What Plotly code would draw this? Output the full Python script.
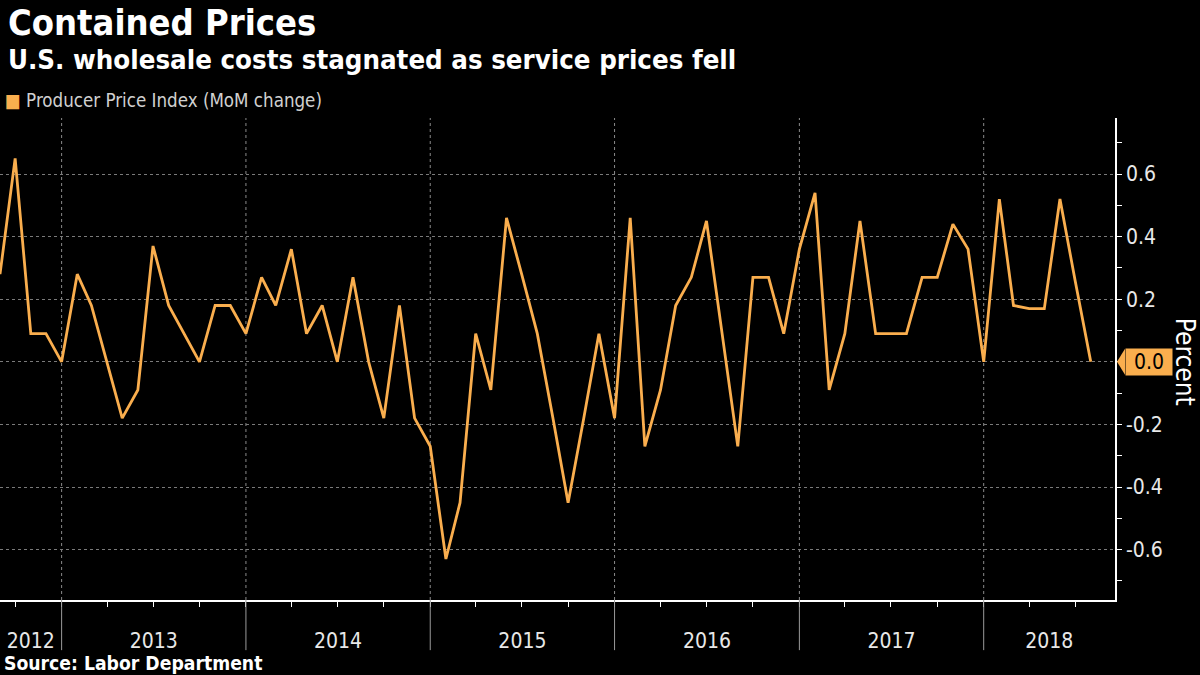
import plotly.graph_objects as go
import pandas as pd

# ---- data ----
start_month = "2012-08"
ppi_mom = [0.28, 0.65, 0.09, 0.09, 0.00,
           0.28, 0.18, 0.00, -0.18, -0.09, 0.37, 0.18, 0.09, 0.00, 0.18, 0.18, 0.09,
           0.27, 0.18, 0.36, 0.09, 0.18, 0.00, 0.27, 0.00, -0.18, 0.18, -0.18, -0.27,
           -0.63, -0.45, 0.09, -0.09, 0.46, 0.28, 0.09, -0.18, -0.45, -0.18, 0.09, -0.18,
           0.46, -0.27, -0.09, 0.18, 0.27, 0.45, 0.09, -0.27, 0.27, 0.27, 0.09, 0.36,
           0.54, -0.09, 0.09, 0.45, 0.09, 0.09, 0.09, 0.27, 0.27, 0.44, 0.36, 0.00,
           0.52, 0.18, 0.17, 0.17, 0.52, 0.26, 0.00]
years = ["2012", "2013", "2014", "2015", "2016", "2017", "2018"]
y_tickvals = [-0.6, -0.4, -0.2, 0.0, 0.2, 0.4, 0.6]
y_ticktext = ["-0.6", "-0.4", "-0.2", "", "0.2", "0.4", "0.6"]
x_range = ["2012-09-01", "2018-09-18"]
y_range = [-0.761, 0.779]

ORANGE = "#FAAE4E"
FONT = "DejaVu Sans Condensed, DejaVu Sans, sans-serif"

# month-end dates (plotted at the start of the following month)
dates = (pd.period_range(start_month, periods=len(ppi_mom), freq="M") + 1).to_timestamp()

fig = go.Figure()
fig.add_trace(go.Scatter(x=dates, y=ppi_mom, mode="lines",
                         line=dict(color=ORANGE, width=2.8),
                         showlegend=False, hoverinfo="x+y"))

# year label positions: centre of visible part of each year
r0, r1 = pd.Timestamp(x_range[0]), pd.Timestamp(x_range[1])
label_pos = []
boundaries = []
for y in years:
    a = max(r0, pd.Timestamp(f"{y}-01-01"))
    b = min(r1, pd.Timestamp(f"{int(y)+1}-01-01"))
    label_pos.append(a + (b - a) / 2)
    if pd.Timestamp(f"{y}-01-01") > r0:
        boundaries.append(pd.Timestamp(f"{y}-01-01"))

shapes = []
for bd in boundaries:
    shapes.append(dict(type="line", xref="x", yref="paper", x0=bd, x1=bd, y0=0, y1=1,
                       line=dict(color="#8a8a8a", width=1, dash="dot"), layer="below"))
    shapes.append(dict(type="line", xref="x", yref="paper", x0=bd, x1=bd, y0=0, y1=-0.104,
                       line=dict(color="#9a9a9a", width=1)))

# last-value tag pointer
y0p = (0 - y_range[0]) / (y_range[1] - y_range[0])
plot_w = 1200 - 0 - 85
plot_h = 675 - 118 - 75
dx = 8 / plot_w
dy = 13 / plot_h
shapes.append(dict(type="path", xref="paper", yref="paper",
                   path=f"M {1 + 2/plot_w} {y0p} L {1 + 2/plot_w + dx} {y0p + dy} "
                        f"L {1 + 2/plot_w + dx} {y0p - dy} Z",
                   fillcolor=ORANGE, line=dict(width=0)))

annotations = [
    dict(text="Contained Prices", xref="paper", yref="paper", x=-0.0, y=1,
         xanchor="left", yanchor="middle", showarrow=False,
         font=dict(family=FONT, size=36, color="white", weight="bold"),
         yshift=118 - 22, xshift=6),
    dict(text="U.S. wholesale costs stagnated as service prices fell", xref="paper", yref="paper",
         x=0, y=1, xanchor="left", yanchor="middle", showarrow=False,
         font=dict(family=FONT, size=27.4, color="white", weight="bold"),
         yshift=118 - 59, xshift=6),
    dict(text=f"<span style='color:{ORANGE}'>■</span> Producer Price Index (MoM change)",
         xref="paper", yref="paper", x=0, y=1, xanchor="left", yanchor="middle",
         showarrow=False, font=dict(family=FONT, size=18.6, color="#d0d0d0"),
         yshift=118 - 100, xshift=3),
    dict(text="Source: Labor Department", xref="paper", yref="paper", x=0, y=0,
         xanchor="left", yanchor="middle", showarrow=False,
         font=dict(family=FONT, size=19.2, color="white", weight="bold"),
         yshift=-(663 - 600), xshift=2),
    dict(text="Percent", xref="paper", yref="paper", x=1, y=y0p, xanchor="center",
         yanchor="middle", showarrow=False, textangle=90,
         font=dict(family=FONT, size=26, color="white"), xshift=70),
    dict(text="0.0", xref="paper", yref="paper", x=1, y=y0p, xanchor="left",
         yanchor="middle", showarrow=False, bgcolor=ORANGE, borderpad=2,
         width=42, height=22, align="center",
         font=dict(family=FONT, size=21, color="black"), xshift=2 + 8),
]

fig.update_layout(
    width=1200, height=675,
    margin=dict(l=0, r=85, t=118, b=75),
    paper_bgcolor="black", plot_bgcolor="black",
    font=dict(family=FONT, color="white"),
    shapes=shapes, annotations=annotations,
    showlegend=False,
    xaxis=dict(type="date", range=x_range, tickmode="array", tickvals=label_pos,
               ticktext=years, ticks="outside", ticklen=21, tickcolor="rgba(0,0,0,0)",
               tickfont=dict(family=FONT, size=21, color="#e8e8e8"),
               showgrid=False, zeroline=False, showline=True, linecolor="white",
               linewidth=1.5,
               minor=dict(dtick="M3", tick0="2013-01-01", ticks="outside", ticklen=5,
                          tickcolor="white", showgrid=False)),
    yaxis=dict(side="right", range=y_range, tickmode="array", tickvals=y_tickvals,
               ticktext=y_ticktext, ticks="outside", ticklen=5, tickcolor="white",
               tickfont=dict(family=FONT, size=21, color="#e8e8e8"),
               showgrid=True, gridcolor="#7a7a7a", griddash="dot", gridwidth=1,
               zeroline=False, showline=True, linecolor="white", linewidth=1.5,
               minor=dict(dtick=0.1, tick0=0, ticks="outside", ticklen=5,
                          tickcolor="white", showgrid=False)),
)

fig.write_html("out.html")
